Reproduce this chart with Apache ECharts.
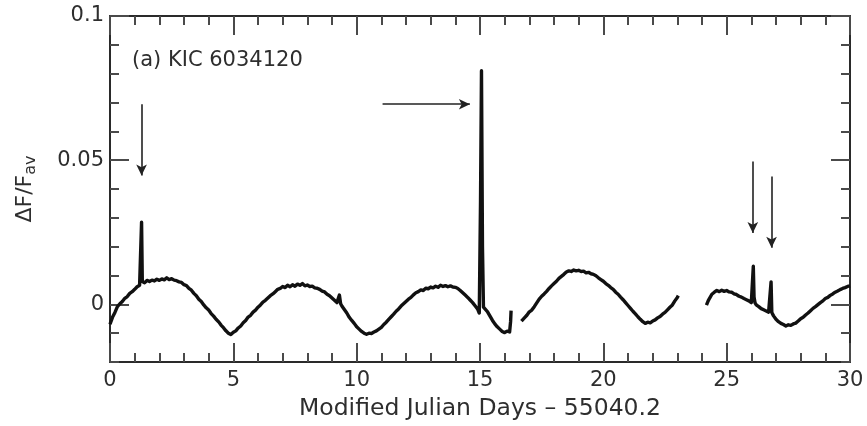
<!DOCTYPE html>
<html>
<head>
<meta charset="utf-8">
<script src="https://cdn.jsdelivr.net/npm/echarts@6/dist/echarts.min.js"></script>
<style>html,body{margin:0;padding:0;background:#fff}#c{width:867px;height:426px}</style>
</head>
<body>
<div id="c"></div>
<script>
// ---- data ----
const seg1Days = [0.0,0.1,0.2,0.3,0.4,0.5,0.6,0.7,0.8,0.9,1.0,1.1,1.2,1.25,1.28,1.31,1.4,1.5,1.6,1.7,1.8,1.9,2.0,2.1,2.2,2.3,2.4,2.5,2.6,2.7,2.8,2.9,3.0,3.1,3.2,3.3,3.4,3.5,3.6,3.7,3.8,3.9,4.0,4.1,4.2,4.3,4.4,4.5,4.6,4.7,4.8,4.9,5.0,5.1,5.2,5.3,5.4,5.5,5.6,5.7,5.8,5.9,6.0,6.1,6.2,6.3,6.4,6.5,6.6,6.7,6.8,6.9,7.0,7.1,7.2,7.3,7.4,7.5,7.6,7.7,7.8,7.9,8.0,8.1,8.2,8.3,8.4,8.5,8.6,8.7,8.8,8.9,9.0,9.1,9.2,9.3,9.35,9.4,9.5,9.6,9.7,9.8,9.9,10.0,10.1,10.2,10.3,10.4,10.5,10.6,10.7,10.8,10.9,11.0,11.1,11.2,11.3,11.4,11.5,11.6,11.7,11.8,11.9,12.0,12.1,12.2,12.3,12.4,12.5,12.6,12.7,12.8,12.9,13.0,13.1,13.2,13.3,13.4,13.5,13.6,13.7,13.8,13.9,14.0,14.1,14.2,14.3,14.4,14.5,14.6,14.7,14.8,14.9,14.97,15.02,15.06,15.1,15.14,15.2,15.3,15.4,15.5,15.6,15.7,15.8,15.9,16.0,16.1,16.2,16.24,16.26];
const seg1Flux = [-0.0069,-0.0045,-0.0028,-0.0008,0.0002,0.0010,0.0021,0.0027,0.0038,0.0044,0.0052,0.0061,0.0066,0.0070,0.0285,0.0079,0.0075,0.0083,0.0079,0.0084,0.0081,0.0087,0.0083,0.0088,0.0085,0.0092,0.0086,0.0089,0.0084,0.0082,0.0078,0.0076,0.0068,0.0065,0.0055,0.0049,0.0038,0.0030,0.0018,0.0010,-0.0002,-0.0012,-0.0020,-0.0032,-0.0041,-0.0052,-0.0060,-0.0072,-0.0081,-0.0092,-0.0100,-0.0105,-0.0097,-0.0092,-0.0082,-0.0075,-0.0064,-0.0056,-0.0044,-0.0038,-0.0027,-0.0020,-0.0010,-0.0002,0.0008,0.0014,0.0022,0.0030,0.0036,0.0044,0.0052,0.0055,0.0062,0.0058,0.0066,0.0061,0.0068,0.0063,0.0070,0.0066,0.0072,0.0064,0.0067,0.0062,0.0063,0.0057,0.0056,0.0052,0.0046,0.0043,0.0035,0.0030,0.0022,0.0014,0.0006,0.0032,0.0002,-0.0006,-0.0018,-0.0030,-0.0045,-0.0056,-0.0066,-0.0078,-0.0086,-0.0094,-0.0100,-0.0104,-0.0100,-0.0101,-0.0096,-0.0092,-0.0086,-0.0080,-0.0070,-0.0062,-0.0052,-0.0043,-0.0034,-0.0024,-0.0016,-0.0006,0.0002,0.0010,0.0018,0.0024,0.0033,0.0040,0.0044,0.0050,0.0048,0.0056,0.0054,0.0060,0.0057,0.0063,0.0059,0.0066,0.0062,0.0065,0.0061,0.0064,0.0060,0.0059,0.0055,0.0048,0.0040,0.0032,0.0024,0.0015,0.0006,-0.0005,-0.0016,-0.0030,0.0350,0.0810,0.0200,-0.0010,-0.0012,-0.0025,-0.0040,-0.0055,-0.0068,-0.0078,-0.0086,-0.0094,-0.0098,-0.0093,-0.0096,-0.0060,-0.0022];

const seg2Days = [16.68,16.8,16.9,17.0,17.1,17.2,17.3,17.4,17.5,17.6,17.7,17.8,17.9,18.0,18.1,18.2,18.3,18.4,18.5,18.6,18.7,18.8,18.9,19.0,19.1,19.2,19.3,19.4,19.5,19.6,19.7,19.8,19.9,20.0,20.1,20.2,20.3,20.4,20.5,20.6,20.7,20.8,20.9,21.0,21.1,21.2,21.3,21.4,21.5,21.6,21.7,21.8,21.9,22.0,22.1,22.2,22.3,22.4,22.5,22.6,22.7,22.8,22.9,23.0,23.04];
const seg2Flux = [-0.0058,-0.0047,-0.0038,-0.0026,-0.0020,-0.0008,0.0005,0.0018,0.0028,0.0036,0.0045,0.0055,0.0064,0.0072,0.0080,0.0090,0.0097,0.0104,0.0112,0.0116,0.0114,0.0119,0.0116,0.0118,0.0114,0.0115,0.0109,0.0111,0.0106,0.0104,0.0099,0.0092,0.0086,0.0080,0.0072,0.0066,0.0058,0.0052,0.0042,0.0035,0.0025,0.0016,0.0006,-0.0004,-0.0014,-0.0024,-0.0033,-0.0043,-0.0052,-0.0060,-0.0066,-0.0062,-0.0064,-0.0058,-0.0054,-0.0047,-0.0042,-0.0034,-0.0028,-0.0019,-0.0010,-0.0002,0.0012,0.0024,0.0030];

const seg3Days = [24.18,24.25,24.3,24.4,24.5,24.6,24.7,24.8,24.9,25.0,25.1,25.2,25.3,25.4,25.5,25.6,25.7,25.8,25.9,26.0,26.05,26.08,26.11,26.15,26.2,26.3,26.4,26.5,26.6,26.7,26.77,26.8,26.83,26.9,27.0,27.1,27.2,27.3,27.4,27.5,27.6,27.7,27.8,27.9,28.0,28.1,28.2,28.3,28.4,28.5,28.6,28.7,28.8,28.9,29.0,29.1,29.2,29.3,29.4,29.5,29.6,29.7,29.8,29.9,30.0];
const seg3Flux = [-0.0003,0.0012,0.0020,0.0035,0.0042,0.0048,0.0044,0.0049,0.0045,0.0048,0.0043,0.0042,0.0036,0.0034,0.0028,0.0025,0.0020,0.0016,0.0012,0.0006,0.0010,0.0132,0.0025,0.0005,-0.0002,-0.0008,-0.0015,-0.0019,-0.0023,-0.0027,-0.0030,0.0078,-0.0028,-0.0040,-0.0052,-0.0060,-0.0066,-0.0070,-0.0075,-0.0071,-0.0073,-0.0068,-0.0065,-0.0058,-0.0050,-0.0045,-0.0037,-0.0030,-0.0022,-0.0014,-0.0008,-0.0001,0.0006,0.0012,0.0020,0.0024,0.0031,0.0036,0.0042,0.0046,0.0051,0.0055,0.0058,0.0062,0.0064];

// arrows: start and end points in data units
const arrowStartX = [1.28, 11.05, 26.06, 26.82];
const arrowStartY = [0.0694, 0.0694, 0.0495, 0.0443];
const arrowEndX   = [1.28, 14.59, 26.06, 26.82];
const arrowEndY   = [0.0447, 0.0694, 0.0247, 0.0196];

const xTickValues = [0, 5, 10, 15, 20, 25, 30];
const yMajorTicks = [0, 0.05, 0.1];
const yLabels = ['0', '0.05', '0.1'];

// ---- build ----
function pairs(xs, ys){ return xs.map((x,i)=>[x, ys[i]]); }
const lineData = pairs(seg1Days, seg1Flux)
  .concat([[16.45, null]], pairs(seg2Days, seg2Flux))
  .concat([[23.6, null]], pairs(seg3Days, seg3Flux));

const arrows = arrowStartX.map((x,i)=>[{coord:[x, arrowStartY[i]]},{coord:[arrowEndX[i], arrowEndY[i]]}]);

const FONT = 'DejaVu Sans';
const TXT = '#2e2e2e';
const AX = '#2a2a2a';
const TK = '#4a4a4a';

function yLabelFmt(v){
  for (let i=0;i<yMajorTicks.length;i++){ if (Math.abs(v-yMajorTicks[i])<1e-9) return yLabels[i]; }
  return '';
}

const yBase = {type:'value', min:-0.02, max:0.1, splitLine:{show:false}};

const chart = echarts.init(document.getElementById('c'), null, {renderer:'canvas'});
chart.setOption({
  animation:false,
  backgroundColor:'#fff',
  title:{text:'(a) KIC 6034120', left:127, top:45,
    textStyle:{fontFamily:FONT, fontSize:21, fontWeight:'normal', color:TXT}},
  grid:{left:110, right:17, top:16, bottom:60, containLabel:false},
  xAxis:[
    {type:'value', position:'bottom', min:0, max:30, interval:5,
     name:'Modified Julian Days – 55040.2', nameLocation:'middle', nameGap:35,
     nameTextStyle:{fontFamily:FONT, fontSize:23.5, color:TXT},
     axisLine:{show:true, onZero:false, lineStyle:{color:AX, width:2}},
     axisTick:{show:true, inside:true, length:19, lineStyle:{color:TK, width:2}},
     minorTick:{show:true, splitNumber:5, length:9, lineStyle:{color:TK, width:2}},
     axisLabel:{show:true, margin:8, fontFamily:FONT, fontSize:21, color:TXT,
       customValues:xTickValues},
     splitLine:{show:false}},
    {type:'value', position:'top', min:0, max:30, interval:5,
     axisLine:{show:true, onZero:false, lineStyle:{color:AX, width:2}},
     axisTick:{show:true, inside:true, length:19, lineStyle:{color:TK, width:2}},
     minorTick:{show:true, splitNumber:5, length:9, lineStyle:{color:TK, width:2}},
     axisLabel:{show:false}, splitLine:{show:false}}
  ],
  yAxis:[
    Object.assign({}, yBase, {position:'left', interval:0.01,
      name:'{m|ΔF/F}{s|av}', nameLocation:'middle', nameRotate:90, nameGap:71,
      nameTextStyle:{fontFamily:FONT, color:TXT,
        rich:{m:{fontFamily:FONT, fontSize:22, color:TXT},
              s:{fontFamily:FONT, fontSize:16, color:TXT, verticalAlign:'bottom', padding:[12,0,0,0]}}},
      axisLine:{show:true, onZero:false, lineStyle:{color:AX, width:2}},
      axisTick:{show:true, inside:true, length:9, lineStyle:{color:TK, width:2}},
      axisLabel:{show:true, margin:6, fontFamily:FONT, fontSize:21, color:TXT, formatter:yLabelFmt}}),
    Object.assign({}, yBase, {position:'left',
      axisLine:{show:false, onZero:false},
      axisTick:{show:true, inside:true, length:19, customValues:yMajorTicks, lineStyle:{color:TK, width:2}},
      axisLabel:{show:false}}),
    Object.assign({}, yBase, {position:'right', interval:0.01,
      axisLine:{show:true, onZero:false, lineStyle:{color:AX, width:2}},
      axisTick:{show:true, inside:true, length:9, lineStyle:{color:TK, width:2}},
      axisLabel:{show:false}}),
    Object.assign({}, yBase, {position:'right',
      axisLine:{show:false, onZero:false},
      axisTick:{show:true, inside:true, length:19, customValues:yMajorTicks, lineStyle:{color:TK, width:2}},
      axisLabel:{show:false}})
  ],
  series:[{
    type:'line', xAxisIndex:0, yAxisIndex:0, data:lineData,
    showSymbol:false, symbol:'none', connectNulls:false, smooth:false,
    lineStyle:{color:'#111', width:3.4, join:'round'},
    markLine:{silent:true, symbol:['none','arrow'], symbolSize:[8,11],
      label:{show:false}, emphasis:{disabled:true},
      lineStyle:{color:'#222', width:1.6, type:'solid'},
      data:arrows}
  }]
});
</script>
</body>
</html>
